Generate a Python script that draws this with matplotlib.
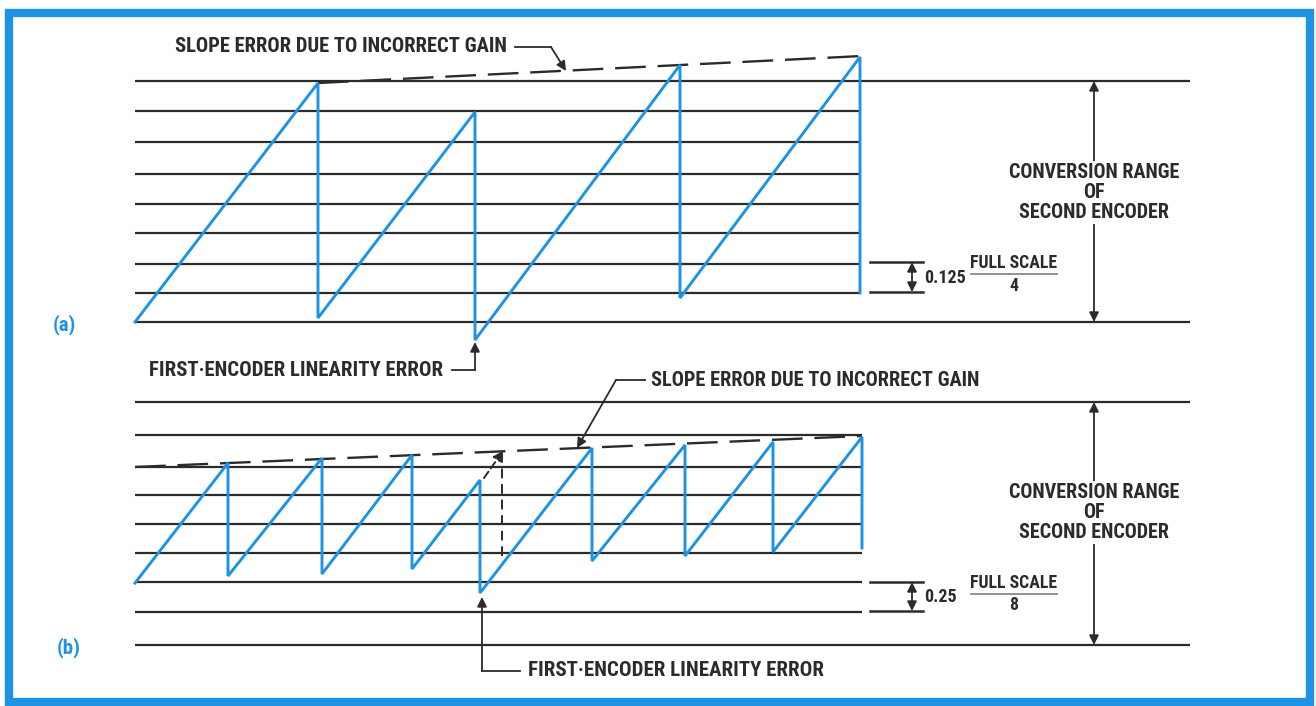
import matplotlib
matplotlib.use("Agg")
import matplotlib.pyplot as plt
from matplotlib.patches import Rectangle

# ---- data (pixel units, y grows downward) ----
# panel (a)
grid_a_y = [81, 111, 142, 174, 204, 233, 264, 293, 322]
grid_a_long = [81, 322]          # lines that run out to the right
saw_a_x = [135, 318, 318, 475, 475, 680, 680, 860, 860]
saw_a_y = [322, 83, 318, 112, 340, 65, 298, 57, 293]
slope_a_x = [318, 862]
slope_a_y = [83, 56]

# panel (b)
grid_b_y = [402, 435, 467, 495, 524, 553, 582, 612, 645]
grid_b_long = [402, 645]
saw_b_x = [135, 228, 228, 322, 322, 412, 412, 480, 480, 592, 592, 685, 685, 773, 773, 862, 862]
saw_b_y = [583, 463, 576, 458, 574, 455, 569, 480, 593, 448, 561, 445, 556, 442, 552, 437, 548]
slope_b_x = [135, 862]
slope_b_y = [467, 436]

labels = ["(a)", "(b)"]
slope_text = "SLOPE ERROR DUE TO INCORRECT GAIN"
linearity_text = "FIRST\u00b7ENCODER LINEARITY ERROR"
range_text = ["CONVERSION RANGE", "OF", "SECOND ENCODER"]
step_values = ["0.125", "0.25"]
step_denoms = ["4", "8"]

BLUE = "#1e93e6"
INK = "#2b2b2b"
FONT = ["Roboto Condensed", "Liberation Sans Narrow", "Liberation Sans", "DejaVu Sans"]


def txt(ax, x, y, s, width=None, ha="left", color=INK, max_size=15, size=None, **kw):
    # draw text; if a width is given, scale it to span that width as in the scan
    t = ax.text(x, y, s, fontsize=size or 12, ha=ha, va="center", color=color,
                family=FONT, weight="bold", **kw)
    if width is not None:
        r = ax.figure.canvas.get_renderer()
        w = t.get_window_extent(r).width
        t.set_fontsize(min(max_size, 12 * width / w))
    return t


def arrow(ax, tail, head, style="-|>"):
    ax.annotate("", xy=head, xytext=tail,
                arrowprops=dict(arrowstyle=style, color=INK, lw=1.3,
                                mutation_scale=14, shrinkA=0, shrinkB=0))


def panel(ax, grid_y, long_y, sx, sy, lx, ly, short_end, top, bot, step_top, step_bot,
          step_val, denom, text_y):
    for y in grid_y:
        x1 = 1190 if y in long_y else short_end
        ax.plot([135, x1], [y, y], color=INK, lw=1.6, solid_capstyle="butt")
    ax.plot(lx, ly, color=INK, lw=1.7, dashes=(13, 5))
    ax.plot(sx, sy, color=BLUE, lw=2.1, solid_joinstyle="miter")
    # conversion range dimension
    arrow(ax, (1094, (top + bot) / 2), (1094, top))
    arrow(ax, (1094, (top + bot) / 2), (1094, bot))
    ax.add_patch(Rectangle((1000, text_y[0] - 12), 190, text_y[2] - text_y[0] + 24,
                           facecolor="white", edgecolor="none", zorder=3))
    t = txt(ax, 1094, text_y[0], range_text[0], 171, ha="center", zorder=4)
    txt(ax, 1094, text_y[1], range_text[1], ha="center", size=t.get_fontsize(), zorder=4)
    txt(ax, 1094, text_y[2], range_text[2], 151, ha="center", zorder=4)
    # one-step dimension
    for y in (step_top, step_bot):
        ax.plot([870, 923], [y, y], color=INK, lw=1.8)
    mid = (step_top + step_bot) / 2
    arrow(ax, (912, mid), (912, step_top))
    arrow(ax, (912, mid), (912, step_bot))
    txt(ax, 924, mid + 1, step_val, size=13)
    fx = 1014
    ax.plot([fx - 43, fx + 43], [mid - 3, mid - 3], color="#888888", lw=1.3)
    f = txt(ax, fx, mid - 14, "FULL SCALE", 87, ha="center")
    txt(ax, fx, mid + 9, denom, ha="center", size=f.get_fontsize())


def main():
    fig = plt.figure(figsize=(13.16, 7.06), dpi=100)
    ax = fig.add_axes([0, 0, 1, 1])
    ax.set_xlim(0, 1316)
    ax.set_ylim(706, 0)
    ax.axis("off")

    ax.add_patch(Rectangle((8.5, 12.5), 1301, 689, fill=False, edgecolor=BLUE, lw=6))

    panel(ax, grid_a_y, grid_a_long, saw_a_x, saw_a_y, slope_a_x, slope_a_y, 860,
          81, 322, 262, 292, step_values[0], step_denoms[0], [173, 193, 212])
    panel(ax, grid_b_y, grid_b_long, saw_b_x, saw_b_y, slope_b_x, slope_b_y, 862,
          402, 645, 582, 611, step_values[1], step_denoms[1], [493, 513, 532])

    # panel labels
    txt(ax, 53, 325, labels[0], 24, color=BLUE)
    txt(ax, 57, 648, labels[1], 26, color=BLUE)

    # (a) annotations
    txt(ax, 175, 47, slope_text, 332)
    ax.plot([515, 551], [47, 47], color=INK, lw=1.3)
    arrow(ax, (551, 47), (566, 71))
    txt(ax, 149, 370, linearity_text, 293)
    ax.plot([452, 475], [370, 370], color=INK, lw=1.3)
    arrow(ax, (475, 370), (475, 342))

    # (b) annotations
    txt(ax, 651, 380, slope_text, 329)
    ax.plot([616, 645], [380, 380], color=INK, lw=1.3)
    arrow(ax, (616, 380), (577, 448))
    txt(ax, 528, 671, linearity_text, 295)
    ax.plot([482, 520], [671, 671], color=INK, lw=1.3)
    arrow(ax, (482, 671), (482, 597))
    # dashed projection of the missing segment
    ax.annotate("", xy=(503, 451), xytext=(484, 478),
                arrowprops=dict(arrowstyle="-|>", color=INK, lw=1.4, ls=(0, (4, 2)),
                                mutation_scale=14, shrinkA=0, shrinkB=0))
    ax.plot([502, 502], [453, 562], color=INK, lw=1.4, dashes=(5, 3))

    fig.savefig("out.png", dpi=100, facecolor="white")


if __name__ == "__main__":
    main()
